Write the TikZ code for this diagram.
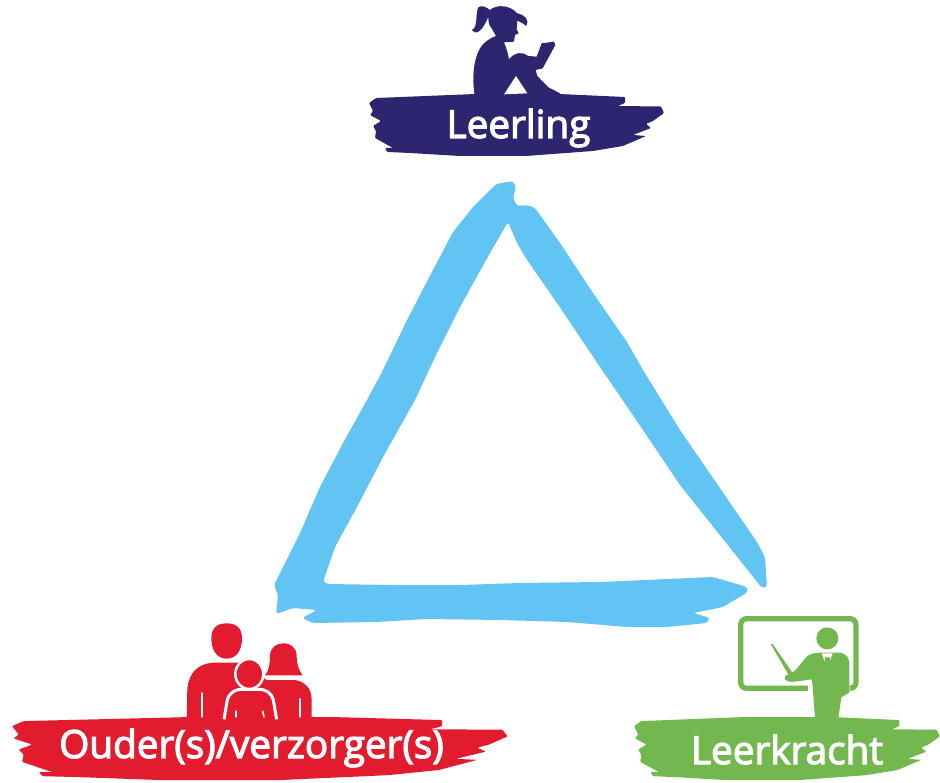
\documentclass[tikz,border=0pt]{standalone}
\usepackage{fontspec}
\setmainfont[FakeBold=3]{Open Sans}
\definecolor{navy}{HTML}{2E2570}
\definecolor{sky}{HTML}{62C4F2}
\definecolor{redb}{HTML}{E31B2F}
\definecolor{greenb}{HTML}{72B84F}
\tikzset{
  label text/.style={text=white,font=\fontsize{38.7}{38.7}\selectfont,inner sep=0pt,anchor=base},
}
\newcommand{\brushshape}[1]{%
  \fill[#1,rounded corners=1pt] (0,9) -- (7,4) -- (107,0) -- (190,0) -- (256,3) -- (256,9) -- (249,12) -- (292,12.5) -- (295,19) -- (284,27) -- (277,30) -- (282,34) -- (264,41) -- (277,42) -- (254,52) -- (224,57) -- (157,62) -- (91,62) -- (41,59) -- (18,58) -- (16,54) -- (24,54) -- (6,44) -- (7,37) -- (4,32) -- (12,27) -- (1,21) -- (4,17) -- cycle;
}
\begin{document}
\begin{tikzpicture}[x=1pt,y=-1pt]
\useasboundingbox (0,0) rectangle (940,783);
% triangle
\fill[sky,rounded corners=3pt] (496,184) -- (513,181) -- (516,187) -- (513,198) -- (517,206) -- (528,205) -- (535,208) -- (560,243) -- (593,293) -- (627,342) -- (643,370) -- (680,430) -- (757,542) -- (765,557) -- (767,587) -- (762,588) -- (680,485) -- (643,430) -- (600,367) -- (557,303) -- (527,260) -- (517,243) -- (508,222)
 -- (490,253) -- (460,307) -- (437,353) -- (415,400) -- (383,457) -- (357,507) -- (335,547) -- (323,582) -- (328,584) -- (393,585) -- (460,585) -- (520,583) -- (600,582) -- (713,577) -- (747,587) -- (748,592) -- (723,607) -- (693,613) -- (710,618) -- (707,623) -- (667,627) -- (627,627) -- (567,622) -- (500,620) -- (427,619) -- (377,622) -- (313,623) -- (302,618) -- (317,610) -- (293,608) -- (276,614) -- (278,595) -- (274,585) -- (300,533) -- (320,487) -- (343,443) -- (367,400) -- (383,370) -- (407,320) -- (433,270) -- (453,232) -- (473,207) -- cycle;
% Leerling
\begin{scope}[shift={(369,94)}]\brushshape{navy}\end{scope}
\begin{scope}[shift={(360,0)},scale=1/3]
\fill[navy] (345,290) .. controls (335,240) and (340,180) .. (360,145) .. controls (372,125) and (395,112) .. (408,108)
 -- (395,85) .. controls (385,75) and (385,60) .. (385,50) .. controls (365,100) and (345,105) .. (335,90) .. controls (355,85) and (345,40) .. (355,22) .. controls (365,15) and (378,20) .. (390,30)
 .. controls (410,12) and (450,15) .. (472,40) .. controls (495,45) and (510,60) .. (498,78) .. controls (490,70) and (480,65) .. (472,62)
 -- (470,88) -- (476,100) -- (465,105) -- (462,125) -- (432,127) .. controls (440,145) and (445,165) .. (447,178)
 .. controls (465,155) and (490,155) .. (505,168) -- (530,170) -- (545,130) -- (582,125) -- (586,135) -- (548,205) -- (527,210) -- (532,228) -- (565,262) -- (600,280) -- (605,290) -- cycle;
\fill[white] (432,283) -- (468,228) -- (502,280) -- cycle;
\end{scope}
\node[label text] (leerling) at (518.5,138) {Leerling};
% Red
\begin{scope}[shift={(12,717)},xscale=1.68,yscale=1.02]\brushshape{redb}\end{scope}
\begin{scope}[shift={(0,560)},scale=1/3]
\fill[redb] (680,190) .. controls (710,190) and (726,205) .. (726,235) .. controls (726,270) and (710,296) .. (680,296) .. controls (650,296) and (634,270) .. (634,235) .. controls (634,205) and (650,190) .. (680,190) -- cycle;
\fill[redb] (560,480) -- (562,385) .. controls (568,340) and (590,312) .. (640,308) -- (720,308) -- (800,360) -- (885,360) .. controls (915,365) and (935,385) .. (935,420) -- (935,480) -- cycle;
\fill[redb] (795,346) .. controls (808,330) and (810,310) .. (810,285) .. controls (812,262) and (830,250) .. (850,250) .. controls (872,250) and (888,262) .. (890,285) .. controls (890,310) and (895,330) .. (908,346) -- cycle;
\fill[white] (795,347) rectangle (910,358);
\draw[white,line width=3pt,fill=redb] (672,478) -- (682,420) .. controls (688,398) and (705,388) .. (725,388) -- (775,388) .. controls (800,388) and (815,400) .. (820,420) -- (830,478);
\draw[white,line width=2.5pt,fill=redb] (748,342) ellipse [x radius=42,y radius=45];
\draw[white,line width=1.6pt] (606,398) -- (606,472) (900,415) -- (900,472) (708,452) -- (708,472) (788,452) -- (792,472);
\end{scope}
\node[label text] (ouders) at (251.5,758) {Ouder(s)/verzorger(s)};
% Green
\begin{scope}[shift={(634,717)},xscale=1.037,yscale=1.02]\brushshape{greenb}\end{scope}
\begin{scope}[shift={(620,540)},scale=1/3]
\draw[greenb,line width=5.3pt,rounded corners=6pt] (600,445) -- (362,445) -- (362,236) -- (708,236) -- (708,445) -- (690,445);
\fill[greenb] (622,295) circle [radius=33];
\fill[greenb] (452,312) -- (458,312) -- (522,405) -- (510,412) -- cycle;
\fill[white] (565,458) rectangle (582,432);
\fill[white] (660,475) -- (700,475) -- (700,455) -- (660,455) -- cycle;
\fill[greenb] (585,535) -- (578,440) -- (575,418) -- (525,425) .. controls (505,428) and (490,420) .. (495,410) .. controls (500,402) and (515,400) .. (525,392) -- (560,350) .. controls (570,340) and (590,338) .. (600,338) -- (660,338) .. controls (680,342) and (688,352) .. (688,375) -- (688,458) -- (664,472) -- (655,535) -- cycle;
\fill[white] (605,340) -- (638,340) -- (622,385) -- cycle;
\fill[greenb] (615,352) -- (630,352) -- (632,380) -- (622,392) -- (613,380) -- cycle;
\end{scope}
\node[label text] (leerkracht) at (787,764) {Leerkracht};
\end{tikzpicture}
\end{document}
